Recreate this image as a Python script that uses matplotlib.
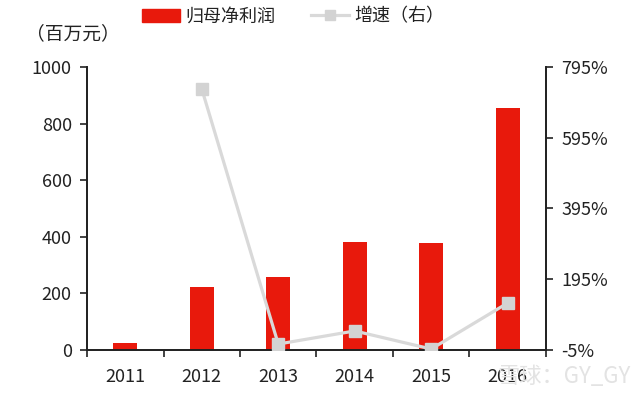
import matplotlib

matplotlib.use("Agg")
import matplotlib.pyplot as plt  # noqa: E402
from matplotlib.lines import Line2D  # noqa: E402
from matplotlib.patches import Patch  # noqa: E402

plt.rcParams["font.family"] = ["Noto Sans CJK SC", "DejaVu Sans"]

years = ["2011", "2012", "2013", "2014", "2015", "2016"]
profit = [26, 222, 257, 383, 378, 855]          # 归母净利润, 百万元
growth = [None, 733, 12, 49, -2, 128]           # 增速, %

_RED = "#E8190C"
_GRAY = "#D9D9D9"
_TXT = "#222222"

fig = plt.figure(figsize=(6.4, 3.96), dpi=100)
ax = fig.add_axes([0.136, 0.116, 0.717, 0.715])
ax2 = ax.twinx()

x = list(range(len(years)))
ax.bar(x, profit, width=0.31, color=_RED, zorder=2)
gx = [i for i, g in zip(x, growth) if g is not None]
gy = [g for g in growth if g is not None]
ax2.plot(gx, gy, color=_GRAY, lw=2.3, marker="s", ms=8.5, mfc="#D3D3D3", mec="#D3D3D3", zorder=3)

ax.set_xlim(-0.5, len(years) - 0.5)
ax.set_ylim(0, 1000)
ax.set_yticks(range(0, 1001, 200))
ax2.set_ylim(-5, 795)
ax2.set_yticks(range(-5, 796, 200))
ax2.set_yticklabels([f"{v}%" for v in range(-5, 796, 200)])

ax.set_xticks([i - 0.5 for i in range(len(years) + 1)], minor=False)
ax.set_xticklabels([])
ax.set_xticks(x, minor=True)
ax.set_xticklabels(years, minor=True)
ax.tick_params(axis="x", which="minor", length=0, pad=13)
ax.tick_params(axis="x", which="major", direction="out", length=5, width=1.2, color=_TXT)

for a in (ax, ax2):
    a.spines["top"].set_visible(False)
    for s in ("left", "right", "bottom"):
        a.spines[s].set_color(_TXT)
        a.spines[s].set_linewidth(1.3)
    a.tick_params(axis="y", direction="out", length=5, width=1.2, color=_TXT,
                  labelsize=13, labelcolor=_TXT, pad=6)
ax.tick_params(axis="x", which="minor", labelsize=13, labelcolor=_TXT)
ax2.set_zorder(ax.get_zorder() + 1)
ax2.patch.set_visible(False)

fig.text(0.04, 0.915, "（百万元）", fontsize=13.5, color=_TXT, ha="left", va="center")
handles = [Patch(color=_RED), Line2D([], [], color=_GRAY, lw=2.3, marker="s", ms=6.5,
                                     mfc="#D3D3D3", mec="#D3D3D3")]
fig.legend(handles, ["归母净利润", "增速（右）"], loc="center", bbox_to_anchor=(0.458, 0.958),
           ncol=2, frameon=False, fontsize=13, handlelength=2.1, columnspacing=2.0,
           handletextpad=0.3, labelcolor=_TXT)

fig.text(0.985, 0.048, "雪球：GY_GY", fontsize=16, color="#E3E3E3", ha="right", va="center")

fig.savefig("out.png", dpi=100)
plt.close(fig)
